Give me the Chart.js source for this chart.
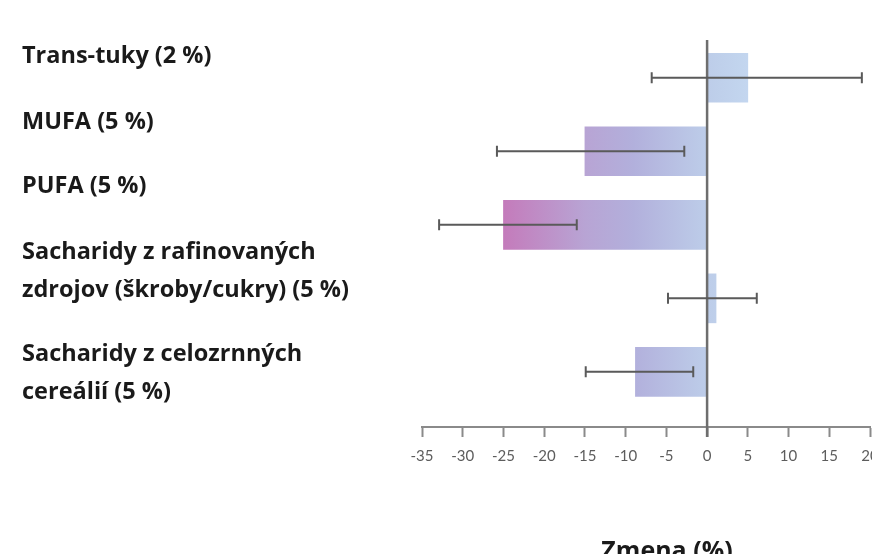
<!DOCTYPE html>
<html>
<head>
<meta charset="utf-8">
<script src="https://cdn.jsdelivr.net/npm/chart.js@4/dist/chart.umd.min.js"></script>
<style>
  html, body { margin: 0; padding: 0; background: #fff; }
  #wrap { width: 872px; height: 554px; position: relative; }
</style>
</head>
<body>
<div id="wrap"><canvas id="c" width="872" height="554"></canvas></div>
<script>
// ---- data ----
const categories = [
  ['Trans-tuky (2 %)'],
  ['MUFA (5 %)'],
  ['PUFA (5 %)'],
  ['Sacharidy z rafinovaných', 'zdrojov (škroby/cukry) (5 %)'],
  ['Sacharidy z celozrnných', 'cereálií (5 %)']
];
const changeValues = [5.0, -15.0, -25.0, 1.1, -8.8];
const ciLow  = [-6.8, -25.8, -32.9, -4.8, -14.9];
const ciHigh = [19.0, -2.8, -16.0, 6.1, -1.7];
const xTicks = [-35, -30, -25, -20, -15, -10, -5, 0, 5, 10, 15, 20];
const xTitle = 'Zmena (%)';

// ---- layout (text positions only) ----
const labelFirstLineY = [56, 122, 186, 252, 354];
const labelLineGap = 38;

const colorStops = [
  [-25, '#c47bbb'],
  [-15, '#b8a4d4'],
  [-9,  '#b2b0dc'],
  [0,   '#bdcde9'],
  [5,   '#c3d6ef']
];

function barGradient(ctx) {
  const chart = ctx.chart;
  const xs = chart.scales.x;
  if (!chart.chartArea || !xs) return '#c3d6ef';
  const x0 = xs.getPixelForValue(colorStops[0][0]);
  const x1 = xs.getPixelForValue(colorStops[colorStops.length - 1][0]);
  const g = chart.ctx.createLinearGradient(x0, 0, x1, 0);
  const span = colorStops[colorStops.length - 1][0] - colorStops[0][0];
  colorStops.forEach(([v, c]) => g.addColorStop((v - colorStops[0][0]) / span, c));
  return g;
}

const overlay = {
  id: 'overlay',
  afterDatasetsDraw(chart) {
    const { ctx, scales: { x, y }, chartArea } = chart;
    ctx.save();
    // zero line
    const zx = x.getPixelForValue(0);
    ctx.strokeStyle = '#6e6e6e';
    ctx.lineWidth = 2.5;
    ctx.beginPath();
    ctx.moveTo(zx, chartArea.top - 1);
    ctx.lineTo(zx, chartArea.bottom + 10);
    ctx.stroke();
    // error bars
    ctx.strokeStyle = '#5a5a5a';
    ctx.lineWidth = 2;
    for (let i = 0; i < changeValues.length; i++) {
      const cy = y.getPixelForValue(i);
      const a = x.getPixelForValue(ciLow[i]);
      const b = x.getPixelForValue(ciHigh[i]);
      ctx.beginPath();
      ctx.moveTo(a, cy); ctx.lineTo(b, cy);
      ctx.moveTo(a, cy - 5.5); ctx.lineTo(a, cy + 5.5);
      ctx.moveTo(b, cy - 5.5); ctx.lineTo(b, cy + 5.5);
      ctx.stroke();
    }
    ctx.restore();
  },
  afterDraw(chart) {
    const { ctx } = chart;
    ctx.save();
    ctx.fillStyle = '#1a1a1a';
    ctx.font = 'bold 23.5px "Open Sans", sans-serif';
    ctx.textAlign = 'left';
    ctx.textBaseline = 'middle';
    categories.forEach((lines, i) => {
      lines.forEach((t, j) => ctx.fillText(t, 22, labelFirstLineY[i] + j * labelLineGap));
    });
    ctx.font = 'bold 25px "Open Sans", sans-serif';
    ctx.textAlign = 'center';
    ctx.textBaseline = 'alphabetic';
    ctx.fillText(xTitle, 667, 559);
    ctx.restore();
  }
};

new Chart(document.getElementById('c'), {
  type: 'bar',
  data: {
    datasets: [{
      data: changeValues.map((v, i) => ({ x: v, y: i })),
      backgroundColor: barGradient,
      borderWidth: 0,
      barThickness: 49
    }]
  },
  options: {
    indexAxis: 'y',
    responsive: false,
    animation: false,
    layout: { padding: { left: 422, right: 2, top: 41, bottom: 0 } },
    plugins: { legend: { display: false }, tooltip: { enabled: false } },
    scales: {
      y: {
        type: 'linear',
        display: false,
        reverse: true,
        offset: false,
        grid: { offset: false },
        min: -0.5,
        max: 4.75
      },
      x: {
        type: 'linear',
        min: xTicks[0],
        max: xTicks[xTicks.length - 1],
        afterBuildTicks: s => { s.ticks = xTicks.map(v => ({ value: v })); },
        afterFit: s => { s.height = 127; s.paddingLeft = 0; s.paddingRight = 0; },
        border: { display: true, color: '#8a8a8a', width: 2 },
        grid: {
          drawOnChartArea: false,
          drawTicks: true,
          tickLength: 10,
          tickColor: '#8a8a8a',
          tickWidth: 2
        },
        ticks: {
          font: { family: 'Lato', size: 15 },
          color: '#5d5d5d',
          padding: 10,
          maxRotation: 0,
          autoSkip: false
        }
      }
    }
  },
  plugins: [overlay]
});
</script>
</body>
</html>
